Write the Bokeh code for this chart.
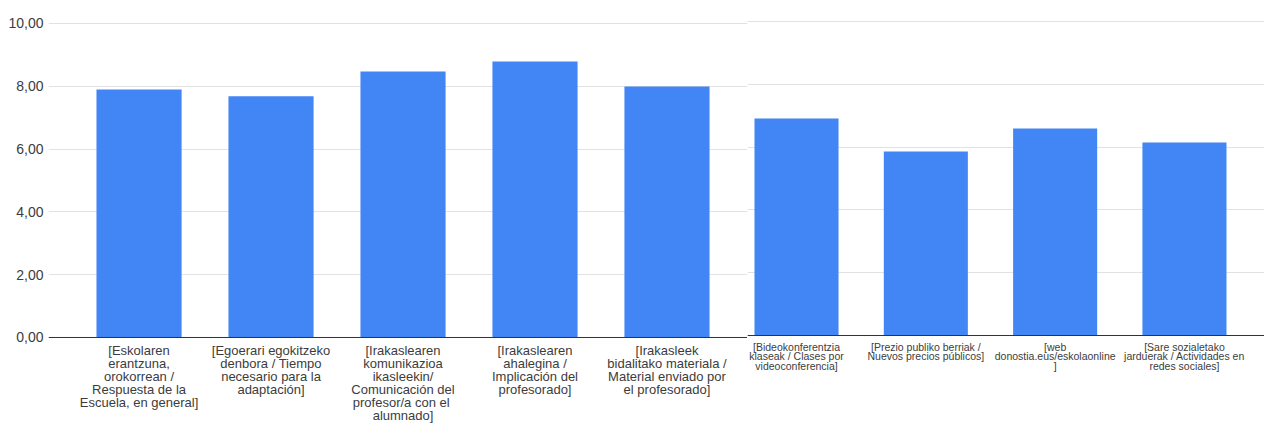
from bokeh.plotting import figure
from bokeh.layouts import row
from bokeh.models import Range1d, FixedTicker, Span, ColumnDataSource
from bokeh.core.properties import value
from bokeh.embed import file_html
from bokeh.resources import INLINE

# ---- data ----
left_labels = [
    "[Eskolaren\nerantzuna,\norokorrean /\nRespuesta de la\nEscuela, en general]",
    "[Egoerari egokitzeko\ndenbora / Tiempo\nnecesario para la\nadaptación]",
    "[Irakaslearen\nkomunikazioa\nikasleekin/\nComunicación del\nprofesor/a con  el\nalumnado]",
    "[Irakaslearen\nahalegina /\nImplicación del\nprofesorado]",
    "[Irakasleek\nbidalitako materiala /\nMaterial enviado por\nel profesorado]",
]
left_values = [7.90, 7.68, 8.47, 8.79, 7.99]

right_labels = [
    "[Bideokonferentzia\nklaseak / Clases por\nvideoconferencia]",
    "[Prezio publiko berriak /\nNuevos precios públicos]",
    "[web\ndonostia.eus/eskolaonline\n]",
    "[Sare sozialetako\njarduerak / Actividades en\nredes sociales]",
]
right_values = [6.91, 5.86, 6.59, 6.15]

y_ticks = [0, 2, 4, 6, 8, 10]
y_tick_labels = ["0,00", "2,00", "4,00", "6,00", "8,00", "10,00"]

BLUE = "#4285F4"
FONT = "Liberation Sans"
GRID = "#e2e2e2"
TXT = "#3c3c3c"


def make(labels, values, width, xr, yr, label_size, line_h, label_y, bar_w, show_y):
    p = figure(width=width, height=424, output_backend="svg", toolbar_location=None,
               x_range=Range1d(*xr), y_range=Range1d(*yr),
               min_border_left=48 if show_y else 0, min_border_right=0,
               min_border_top=0, min_border_bottom=0)
    p.outline_line_color = None
    p.xaxis.visible = False
    p.xgrid.visible = False
    p.ygrid.ticker = FixedTicker(ticks=y_ticks)
    p.ygrid.grid_line_color = GRID
    p.ygrid.grid_line_width = 1
    if show_y:
        ax = p.yaxis[0]
        ax.ticker = FixedTicker(ticks=y_ticks)
        ax.major_label_overrides = {t: s for t, s in zip(y_ticks, y_tick_labels)}
        ax.axis_line_color = None
        ax.major_tick_line_color = None
        ax.minor_tick_line_color = None
        ax.major_tick_out = 0
        ax.major_tick_in = 0
        ax.major_label_standoff = 5
        ax.major_label_text_font = FONT
        ax.major_label_text_font_size = "14px"
        ax.major_label_text_color = TXT
    else:
        p.yaxis.visible = False

    xs = list(range(len(values)))
    src = ColumnDataSource(dict(x=xs, top=values, label=labels))
    p.vbar(x="x", top="top", bottom=0, width=bar_w, source=src,
           fill_color=BLUE, line_color=None)
    p.add_layout(Span(location=0, dimension="width", line_color="#333333", line_width=1))
    p.text(x="x", y=label_y, text="label", source=src,
           text_font=value(FONT), text_font_size=label_size,
           text_color=TXT, text_align="center", text_baseline="top",
           text_line_height=line_h)
    return p


left = make(left_labels, left_values, 747, (-0.686, 4.61), (-2.771, 10.732),
            "13px", 0.875, -0.17, 0.645, True)
right = make(right_labels, right_values, 517, (-0.379, 3.619), (-2.834, 10.669),
             "10.5px", 0.8, -0.17, 0.65, False)

layout = row(left, right, spacing=0)
open("out.html", "w").write(file_html(layout, INLINE))
